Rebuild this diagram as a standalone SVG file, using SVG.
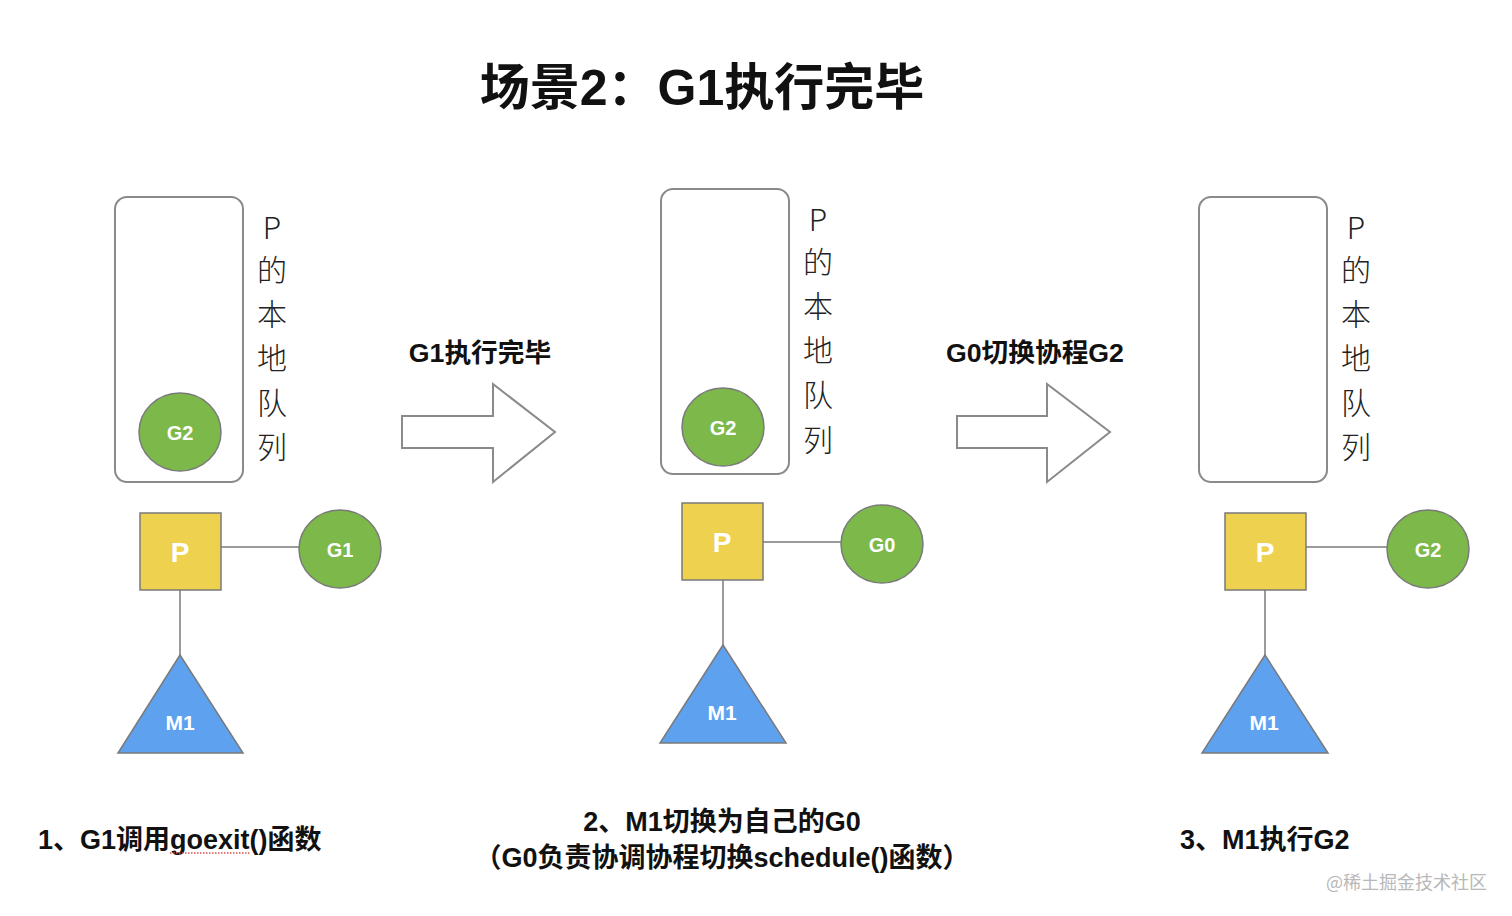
<svg xmlns="http://www.w3.org/2000/svg" width="1512" height="916" viewBox="0 0 1512 916">
<style>
.q{fill:#fff;stroke:#8a8a8a;stroke-width:2}
.g{fill:#7cb84a;stroke:#7a7a7a;stroke-width:1.5}
.p{fill:#eed14f;stroke:#7a7a7a;stroke-width:1.5}
.m{fill:#5ea2ef;stroke:#7a7a7a;stroke-width:1.5}
.ln{stroke:#7a7a7a;stroke-width:1.5;fill:none}
.ar{fill:#fff;stroke:#8a8a8a;stroke-width:2}
.nl{font-family:"Liberation Sans","Noto Sans CJK SC",sans-serif;font-weight:bold;fill:#fff;text-anchor:middle;dominant-baseline:central}
.vt{font-family:"Noto Sans CJK SC",sans-serif;font-weight:300;font-size:30px;fill:#222;text-anchor:middle;dominant-baseline:central}
.bt{font-family:"Liberation Sans","Noto Sans CJK SC",sans-serif;font-weight:bold;fill:#111;dominant-baseline:central}
</style>
<rect width="1512" height="916" fill="#fff"/>
<text class="bt" x="702" y="88" font-size="50" text-anchor="middle">场景2：G1执行完毕</text>

<g id="connectors">
<line class="ln" x1="221" y1="547" x2="299" y2="547"/>
<line class="ln" x1="180" y1="590" x2="180" y2="655"/>
<line class="ln" x1="763" y1="542" x2="841" y2="542"/>
<line class="ln" x1="723" y1="580" x2="723" y2="645"/>
<line class="ln" x1="1306" y1="547" x2="1387" y2="547"/>
<line class="ln" x1="1265" y1="590" x2="1265" y2="655"/>
</g>

<!-- Panel 1 -->
<g id="queue1">
<rect class="q" x="115" y="197" width="128" height="285" rx="12"/>
<text class="vt" x="272" y="226">P</text>
<text class="vt" x="272" y="268">的</text>
<text class="vt" x="272" y="312">本</text>
<text class="vt" x="272" y="356">地</text>
<text class="vt" x="272" y="401">队</text>
<text class="vt" x="272" y="445">列</text>
</g>
<g id="g2a"><ellipse class="g" cx="180" cy="432" rx="41" ry="39"/><text class="nl" x="180" y="433" font-size="20">G2</text></g>
<g id="p1"><rect class="p" x="140" y="513" width="81" height="77"/><text class="nl" x="180" y="552" font-size="28">P</text></g>
<g id="g1"><ellipse class="g" cx="340" cy="549" rx="41" ry="39"/><text class="nl" x="340" y="550" font-size="20">G1</text></g>
<g id="m1a"><polygon class="m" points="180,655 243,753 118,753"/><text class="nl" x="180" y="722" font-size="21">M1</text></g>

<g id="arrow1">
<polygon class="ar" points="402,416 493,416 493,384 555,432 493,482 493,448 402,448"/>
<text class="bt" x="480" y="353" font-size="26.7" text-anchor="middle">G1执行完毕</text>
</g>

<!-- Panel 2 -->
<g id="queue2">
<rect class="q" x="661" y="189" width="128" height="285" rx="12"/>
<text class="vt" x="818" y="218">P</text>
<text class="vt" x="818" y="260">的</text>
<text class="vt" x="818" y="304">本</text>
<text class="vt" x="818" y="348">地</text>
<text class="vt" x="818" y="393">队</text>
<text class="vt" x="818" y="438">列</text>
</g>
<g id="g2b"><ellipse class="g" cx="723" cy="427" rx="41" ry="39"/><text class="nl" x="723" y="428" font-size="20">G2</text></g>
<g id="p2"><rect class="p" x="682" y="503" width="81" height="77"/><text class="nl" x="722" y="542" font-size="28">P</text></g>
<g id="g0"><ellipse class="g" cx="882" cy="544" rx="41" ry="39"/><text class="nl" x="882" y="545" font-size="20">G0</text></g>
<g id="m1b"><polygon class="m" points="723,645 786,743 660,743"/><text class="nl" x="722" y="712" font-size="21">M1</text></g>

<g id="arrow2">
<polygon class="ar" points="957,416 1047,416 1047,384 1110,432 1047,482 1047,448 957,448"/>
<text class="bt" x="1035" y="353" font-size="26.7" text-anchor="middle">G0切换协程G2</text>
</g>

<!-- Panel 3 -->
<g id="queue3">
<rect class="q" x="1199" y="197" width="128" height="285" rx="12"/>
<text class="vt" x="1356" y="226">P</text>
<text class="vt" x="1356" y="268">的</text>
<text class="vt" x="1356" y="312">本</text>
<text class="vt" x="1356" y="356">地</text>
<text class="vt" x="1356" y="401">队</text>
<text class="vt" x="1356" y="445">列</text>
</g>
<g id="p3"><rect class="p" x="1225" y="513" width="81" height="77"/><text class="nl" x="1265" y="552" font-size="28">P</text></g>
<g id="g2c"><ellipse class="g" cx="1428" cy="549" rx="41" ry="39"/><text class="nl" x="1428" y="550" font-size="20">G2</text></g>
<g id="m1c"><polygon class="m" points="1265,655 1328,753 1202,753"/><text class="nl" x="1264" y="722" font-size="21">M1</text></g>

<!-- Captions -->
<text class="bt" x="38" y="840" font-size="27">1、G1调用goexit()函数</text>
<line x1="170" y1="853" x2="250" y2="853" stroke="#e05050" stroke-width="1.5" stroke-dasharray="1.5,1.5"/>
<text class="bt" x="722" y="822" font-size="27" text-anchor="middle">2、M1切换为自己的G0</text>
<text class="bt" x="722" y="858" font-size="27" text-anchor="middle">（G0负责协调协程切换schedule()函数）</text>
<text class="bt" x="1180" y="840" font-size="27">3、M1执行G2</text>
<text x="1487" y="881" font-family="Noto Sans CJK SC,sans-serif" font-size="18" fill="#b8b8b8" text-anchor="end" dominant-baseline="central">@稀土掘金技术社区</text>
</svg>
